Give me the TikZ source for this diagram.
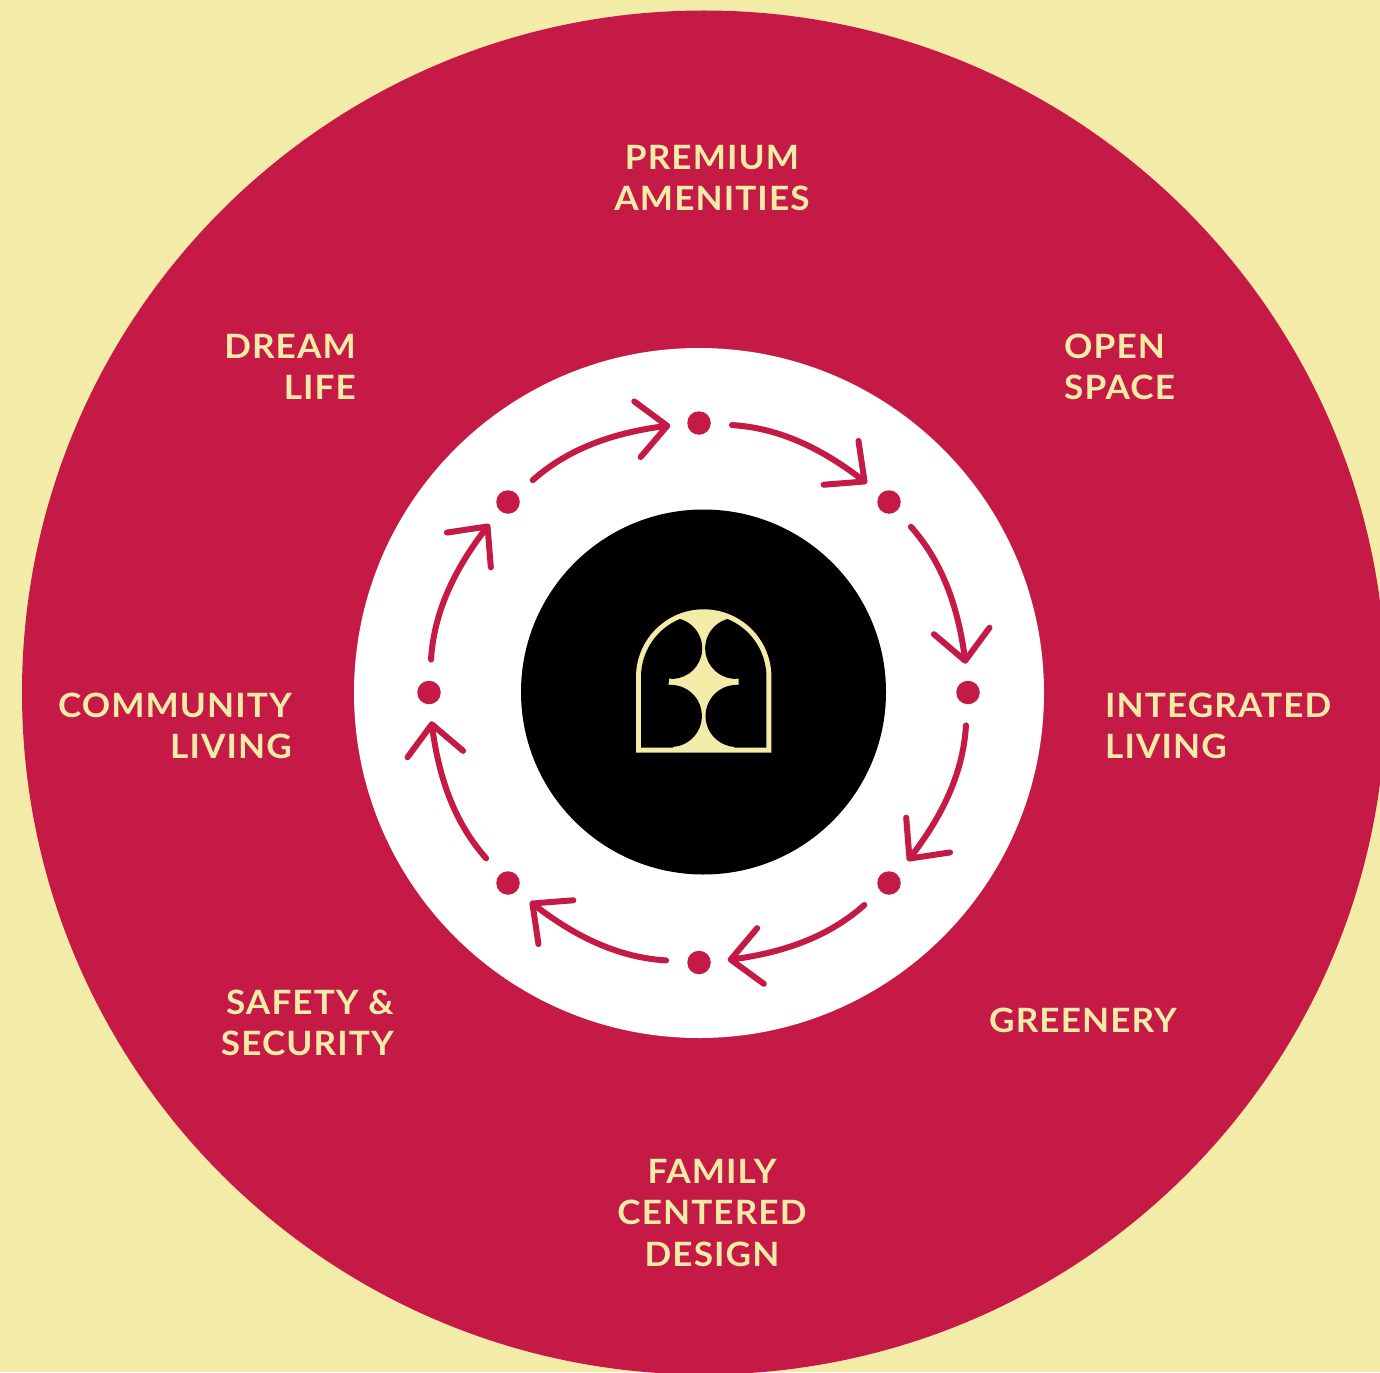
\documentclass[tikz,border=0pt]{standalone}
\usepackage{fontspec}
\setmainfont{Lato}[LetterSpace=3.2,FakeStretch=1.05]
\usetikzlibrary{arrows.meta,bending}
\definecolor{creamc}{HTML}{F2ECA8}
\definecolor{redc}{HTML}{C41A45}
\tikzset{
  lbl/.style={text=creamc,inner sep=0pt,font=\fontsize{33.5}{41.5}\selectfont\bfseries},
  dotn/.style={circle,fill=redc,inner sep=0pt,minimum size=23.5pt},
  cyc/.style={draw=redc,line width=6pt,line cap=round,line join=round,shorten <=33pt,shorten >=30pt,
    -{Straight Barb[length=30pt,width=56pt,round,flex]}},
  bendarc/.style={bend left=19,looseness=1.04},
}
\begin{document}
\begin{tikzpicture}[x=1pt,y=-1pt]
\useasboundingbox (0,0) rectangle (1380,1372);
\clip (0,0) rectangle (1380,1372);
\fill[creamc] (0,0) rectangle (1380,1372);
\fill[redc] (704,692.5) circle[radius=682pt];
\fill[white] (699,693) circle[radius=345pt];
\fill[black] (703.5,692) circle[radius=182.5pt];
% logo
\fill[creamc] (636,752.7) -- (636,677) arc[start angle=180,end angle=0,radius=67.7pt] -- (771.4,752.7) -- cycle;
\fill[black] (641,747.5) -- (641,677) arc[start angle=180,end angle=112.3,radius=62.7pt] arc[start angle=74.4,end angle=-95.5,radius=30.5pt] -- (668.7,685) arc[start angle=94,end angle=-86,radius=31pt] -- (673,747.5) -- cycle;
\fill[black] (766.4,747.5) -- (766.4,677) arc[start angle=0,end angle=67.7,radius=62.7pt] arc[start angle=105.6,end angle=275.5,radius=30.5pt] -- (738.7,685) arc[start angle=86,end angle=266,radius=31pt] -- (734.4,747.5) -- cycle;
% dots
\node[dotn] (d1) at (699,423) {};
\node[dotn] (d2) at (889,502) {};
\node[dotn] (d3) at (968,692.5) {};
\node[dotn] (d4) at (889,883) {};
\node[dotn] (d5) at (699,962.5) {};
\node[dotn] (d6) at (508,883) {};
\node[dotn] (d7) at (429,692.5) {};
\node[dotn] (d8) at (508,502) {};
\draw[cyc] (d1.center) to[bendarc] (d2.center);
\draw[cyc] (d2.center) to[bendarc] (d3.center);
\draw[cyc] (d3.center) to[bendarc] (d4.center);
\draw[cyc] (d4.center) to[bendarc] (d5.center);
\draw[cyc] (d5.center) to[bendarc] (d6.center);
\draw[cyc] (d6.center) to[bendarc] (d7.center);
\draw[cyc] (d7.center) to[bendarc] (d8.center);
\draw[cyc] (d8.center) to[bendarc] (d1.center);
% labels
\node[lbl,align=center] (t1) at (712,178) {PREMIUM\\AMENITIES};
\node[lbl,align=left,anchor=west] (t2) at (1064,367) {OPEN\\SPACE};
\node[lbl,align=left,anchor=west] (t3) at (1105,726) {INTEGRATED\\LIVING};
\node[lbl,align=center] (t4) at (1083,1020) {GREENERY};
\node[lbl,align=center] (t5) at (712,1213) {FAMILY\\CENTERED\\DESIGN};
\node[lbl,align=right,anchor=east] (t6) at (394,1023) {SAFETY \&\\SECURITY};
\node[lbl,align=right,anchor=east] (t7) at (292,726) {COMMUNITY\\LIVING};
\node[lbl,align=right,anchor=east] (t8) at (356,367) {DREAM\\LIFE};
\end{tikzpicture}
\end{document}
